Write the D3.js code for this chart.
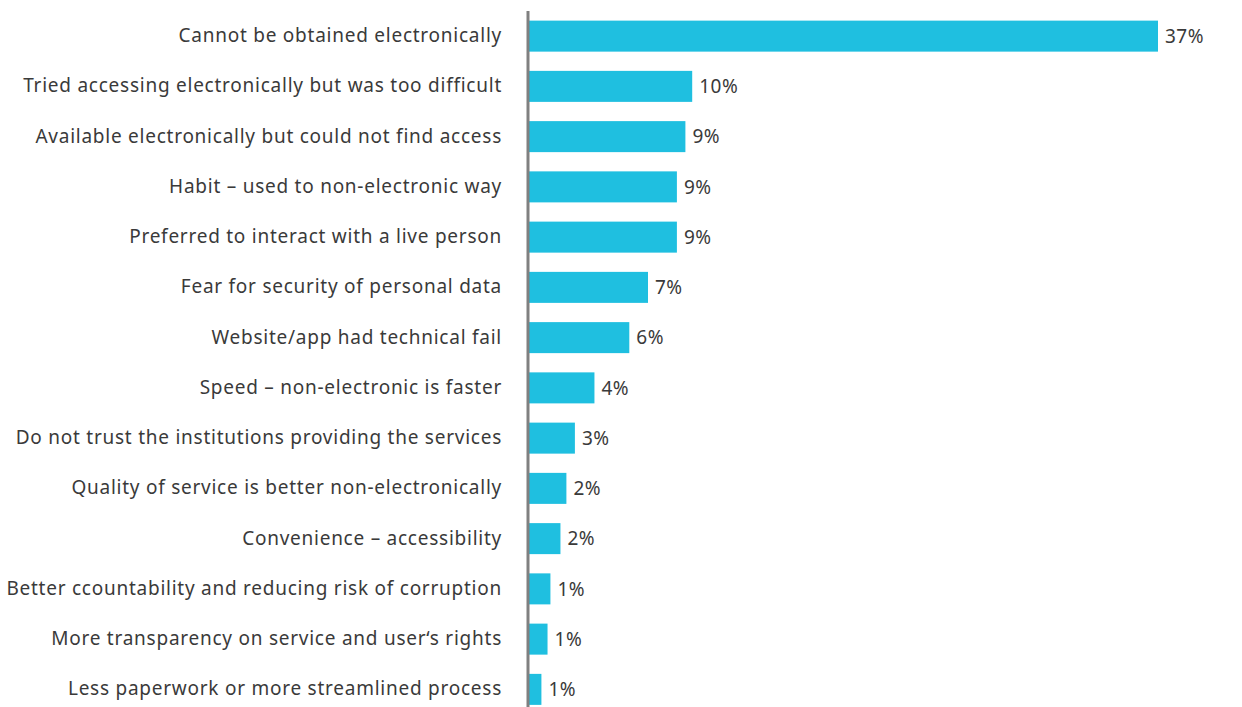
<!DOCTYPE html>
<html>
<head>
<meta charset="utf-8">
<script src="https://cdn.jsdelivr.net/npm/d3@7"></script>
<style>
  html, body { margin: 0; padding: 0; background: #ffffff; }
  svg { display: block; }
  text { font-family: "Noto Sans", "Open Sans", sans-serif; fill: #3a3a3a; }
</style>
</head>
<body>
<svg id="chart" width="1242" height="707"></svg>
<script>
// Reasons for not using electronic services (share of respondents, %)
const categories = [
  "Cannot be obtained electronically",
  "Tried accessing electronically but was too difficult",
  "Available electronically but could not find access",
  "Habit – used to non-electronic way",
  "Preferred to interact with a live person",
  "Fear for security of personal data",
  "Website/app had technical fail",
  "Speed – non-electronic is faster",
  "Do not trust the institutions providing the services",
  "Quality of service is better non-electronically",
  "Convenience – accessibility",
  "Better ccountability and reducing risk of corruption",
  "More transparency on service and user‘s rights",
  "Less paperwork or more streamlined process"
];
const values = [37.0, 9.6, 9.2, 8.7, 8.7, 7.0, 5.9, 3.85, 2.7, 2.2, 1.85, 1.26, 1.09, 0.73];

const W = 1242, H = 707;
const axisX = 528;
const svg = d3.select("#chart");

const x = d3.scaleLinear().domain([0, 37]).range([axisX + 1, 1158]);
const y = d3.scaleBand()
  .domain(categories)
  .range([11, 714.5])
  .paddingInner(0.383)
  .paddingOuter(0.1915);

const rows = categories.map((c, i) => ({ cat: c, val: values[i] }));
const fmt = v => d3.format(".0f")(v) + "%";

// bars
svg.append("g").selectAll("rect")
  .data(rows).join("rect")
  .attr("x", x(0))
  .attr("y", d => y(d.cat))
  .attr("width", d => x(d.val) - x(0))
  .attr("height", y.bandwidth())
  .attr("fill", "#1fbfe0");

// value labels
svg.append("g").selectAll("text")
  .data(rows).join("text")
  .attr("x", d => x(d.val) + 7)
  .attr("y", d => y(d.cat) + y.bandwidth() / 2)
  .attr("dy", "0.35em")
  .attr("font-size", 19)
  .style("letter-spacing", "0.5px")
  .text(d => fmt(d.val));

// category axis (labels on the left, vertical rule)
const yAxis = d3.axisLeft(y).tickSize(0).tickPadding(26);
const ag = svg.append("g").attr("transform", `translate(${axisX},0)`).call(yAxis);
ag.select(".domain").remove();
ag.selectAll("text")
  .attr("font-size", 19)
  .attr("fill", "#3a3a3a")
  .style("letter-spacing", "0.75px")
  .style("font-family", '"Noto Sans", "Open Sans", sans-serif');

svg.append("line")
  .attr("x1", axisX).attr("x2", axisX)
  .attr("y1", 11).attr("y2", H)
  .attr("stroke", "#808080")
  .attr("stroke-width", 3);
</script>
</body>
</html>
